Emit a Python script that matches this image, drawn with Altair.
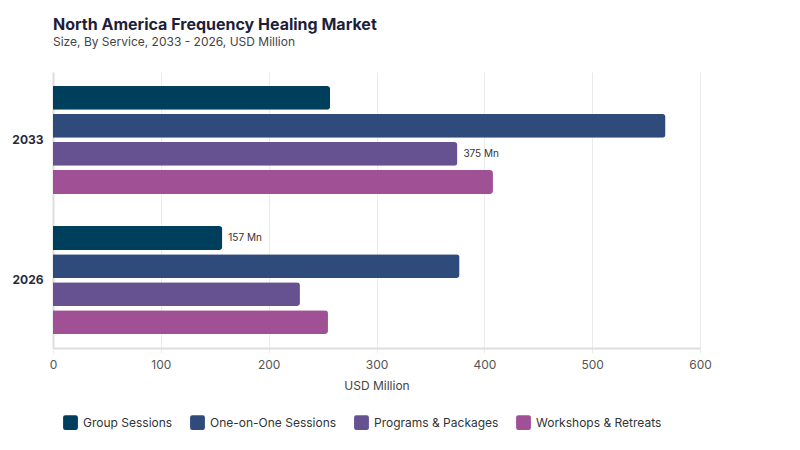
import altair as alt
import pandas as pd

years = ["2033", "2026"]
services = ["Group Sessions", "One-on-One Sessions", "Programs & Packages", "Workshops & Retreats"]
values_2033 = [257, 568, 375, 408]
values_2026 = [157, 377, 229, 255]
labels_2033 = ["", "", "375 Mn", ""]
labels_2026 = ["157 Mn", "", "", ""]
colors = ["#003f5c", "#2f4b7c", "#665191", "#a05195"]

rows = []
for s, v, l in zip(services, values_2033, labels_2033):
    rows.append({"year": "2033", "service": s, "value": v, "label": l})
for s, v, l in zip(services, values_2026, labels_2026):
    rows.append({"year": "2026", "service": s, "value": v, "label": l})
df = pd.DataFrame(rows)

FONT = "Inter"
ROUNDED = ("M-0.7,-1 L0.7,-1 Q1,-1 1,-0.7 L1,0.7 Q1,1 0.7,1 L-0.7,1 "
           "Q-1,1 -1,0.7 L-1,-0.7 Q-1,-1 -0.7,-1 Z")

y_enc = alt.Y("year:N", sort=years, title=None,
              scale=alt.Scale(paddingInner=0.23, paddingOuter=0.1),
              axis=alt.Axis(labelFontWeight="bold", labelFontSize=12, labelColor="#2a2a3a",
                            ticks=False, grid=False, domain=True, domainColor="#dddddd",
                            domainWidth=2, labelPadding=10, labelFont=FONT))
yoff = alt.YOffset("service:N", sort=services, scale=alt.Scale(paddingInner=0.15))

base = alt.Chart(df)

bars = base.mark_bar(cornerRadiusEnd=3).encode(
    y=y_enc,
    yOffset=yoff,
    x=alt.X("value:Q", title="USD Million",
            scale=alt.Scale(domain=[0, 600]),
            axis=alt.Axis(values=[0, 100, 200, 300, 400, 500, 600], labelFontSize=12,
                          labelColor="#555", titleFontSize=12, titleColor="#444",
                          titleFontWeight="normal", labelFont=FONT, titleFont=FONT,
                          labelFlush=False,
                          gridColor="#ebebeb", domainColor="#dddddd", domainWidth=2,
                          tickColor="#ebebeb", tickSize=5, labelPadding=6, titlePadding=10)),
    color=alt.Color("service:N", sort=services,
                    scale=alt.Scale(domain=services, range=colors),
                    legend=alt.Legend(title=None, orient="none", direction="horizontal",
                                      legendX=10, legendY=343, symbolType=ROUNDED,
                                      symbolSize=220, symbolStrokeWidth=0,
                                      labelFontSize=12, labelColor="#333", labelFont=FONT,
                                      labelOffset=5, columnPadding=17, symbolOffset=0)),
)

text = base.mark_text(align="left", dx=6, fontSize=10, color="#333", font=FONT).encode(
    y=alt.Y("year:N", sort=years),
    yOffset=yoff,
    x="value:Q",
    text="label:N",
)

chart = (bars + text).properties(
    width=647, height=276,
    title=alt.TitleParams(
        "North America Frequency Healing Market",
        subtitle="Size, By Service, 2033 - 2026, USD Million",
        anchor="start", frame="group", fontSize=16, fontWeight="bold", color="#1e1e3a",
        font=FONT, subtitleFontSize=12, subtitleColor="#444", subtitleFont=FONT, offset=24,
        subtitlePadding=4,
    ),
    autosize=alt.AutoSizeParams(type="none"),
    padding={"left": 53, "top": 72, "right": 100, "bottom": 102},
).configure(background="white").configure_view(stroke=None, strokeWidth=0)

chart.save("out.html", embed_options={"renderer": "svg", "actions": False})
